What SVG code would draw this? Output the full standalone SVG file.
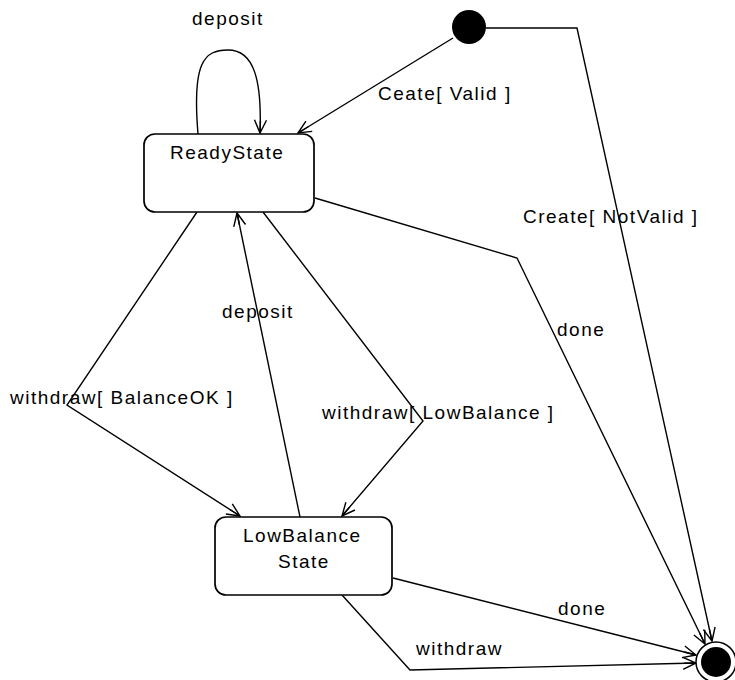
<svg xmlns="http://www.w3.org/2000/svg" width="735" height="680" viewBox="0 0 735 680">
  <style>
    .state { fill: #fff; stroke: #000; stroke-width: 1.7; }
    .edge { fill: none; stroke: #000; stroke-width: 1.4; marker-end: url(#open); }
    text { font-family: "Liberation Sans", Arial, sans-serif; font-size: 19px; letter-spacing: 1.5px; fill: #000; }
  </style>
  <defs>
    <marker id="open" markerUnits="userSpaceOnUse" viewBox="-14 -8 16 16" refX="0" refY="0" markerWidth="16" markerHeight="16" orient="auto">
      <path d="M-13,-6 L0,0 L-13,6 M-12,0 L0,0" fill="none" stroke="#000" stroke-width="1.4"/>
    </marker>
  </defs>
  <rect width="735" height="680" fill="#fff"/>

  <!-- transitions -->
  <g id="connectors">
    <path class="edge" d="M198,134 C192,62 204,50 228,50 C254,50 262,80 260,133"/>
    <path class="edge" d="M453,38 L298,133"/>
    <path class="edge" d="M486,28 L577,28 L712,641"/>
    <path class="edge" d="M315,198 L517,258 L705,644"/>
    <path class="edge" d="M197,212 L67,405 L240,516"/>
    <path class="edge" d="M300,517 L237,213"/>
    <path class="edge" d="M263,212 L423,421 L342,516"/>
    <path class="edge" d="M393,578 L696,655"/>
    <path class="edge" d="M342,595 L410,670 L696,663"/>
  </g>

  <!-- transition labels -->
  <g id="labels">
    <text x="192" y="25">deposit</text>
    <text x="378" y="100">Ceate[ Valid ]</text>
    <text x="523" y="223">Create[ NotValid ]</text>
    <text x="222" y="318">deposit</text>
    <text x="557" y="336">done</text>
    <text x="10" y="404">withdraw[ BalanceOK ]</text>
    <text x="322" y="419">withdraw[ LowBalance ]</text>
    <text x="558" y="615">done</text>
    <text x="416" y="655">withdraw</text>
  </g>

  <g id="initial">
    <circle cx="469" cy="27" r="17" fill="#000"/>
  </g>

  <g id="ready-state">
    <rect class="state" x="144" y="134" width="170" height="78" rx="11"/>
    <text x="170" y="159">ReadyState</text>
  </g>

  <g id="low-balance-state">
    <rect class="state" x="215" y="517" width="177" height="78" rx="11"/>
    <text x="243" y="542">LowBalance</text>
    <text x="278" y="568">State</text>
  </g>

  <g id="final">
    <circle cx="716" cy="662" r="20" fill="#fff" stroke="#000" stroke-width="1.5"/>
    <circle cx="716" cy="662" r="15" fill="#000"/>
  </g>
</svg>
